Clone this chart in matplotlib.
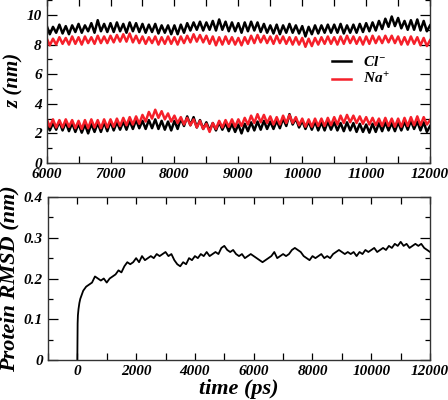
import numpy as np
import matplotlib
matplotlib.use('Agg')
import matplotlib.pyplot as plt
from matplotlib.ticker import MultipleLocator, FuncFormatter

plt.rcParams['font.family'] = 'Liberation Serif'
plt.rcParams['font.weight'] = 'bold'
plt.rcParams['font.style'] = 'italic'
plt.rcParams['axes.labelweight'] = 'bold'
plt.rcParams['mathtext.fontset'] = 'custom'
plt.rcParams['mathtext.it'] = 'Liberation Serif:bold:italic'
plt.rcParams['mathtext.rm'] = 'Liberation Serif:bold'

# ion z positions, every 50 ps from 6000 to 12000
t_ion = np.arange(6000, 12001, 50)

cl_up = [9.3, 8.7, 9.2, 8.8, 9.35, 8.75, 9.25, 8.7, 9.3, 8.85,
         9.4, 8.8, 9.3, 8.9, 9.45, 8.8, 9.65, 8.9, 9.4, 8.85,
         9.45, 8.85, 9.5, 8.9, 9.4, 8.8, 9.5, 8.9, 9.45, 8.85,
         9.4, 8.8, 9.35, 8.85, 9.4, 8.75, 9.3, 8.8, 9.3, 8.7,
         9.3, 8.7, 9.35, 8.8, 9.45, 8.95, 9.5, 9.0, 9.55, 8.95,
         9.5, 9.0, 9.6, 8.95, 9.7, 9.0, 9.55, 8.9, 9.5, 8.9,
         9.45, 8.8, 9.5, 8.9, 9.55, 8.95, 9.5, 8.85, 9.4, 8.8,
         9.3, 8.75, 9.35, 8.7, 9.3, 8.8, 9.4, 8.8, 9.3, 8.75,
         9.25, 8.55, 9.2, 8.7, 9.3, 8.75, 9.3, 8.8, 9.35, 8.8,
         9.35, 8.8, 9.4, 8.75, 9.3, 8.8, 9.35, 8.8, 9.4, 8.85,
         9.45, 8.9, 9.5, 8.95, 9.6, 9.05, 9.75, 9.2, 9.9, 9.25,
         9.8, 9.1, 9.6, 9.0, 9.65, 9.0, 9.7, 8.95, 9.6, 8.9,
         9.3]

na_up = [8.45, 7.95, 8.4, 8.0, 8.5, 8.05, 8.45, 8.0, 8.55, 8.05,
         8.5, 8.0, 8.55, 8.1, 8.5, 8.05, 8.6, 8.1, 8.55, 8.1,
         8.6, 8.15, 8.65, 8.2, 8.7, 8.2, 8.75, 8.15, 8.6, 8.1,
         8.55, 8.05, 8.5, 8.1, 8.55, 8.0, 8.5, 8.05, 8.55, 8.05,
         8.5, 8.0, 8.55, 8.1, 8.6, 8.15, 8.7, 8.2, 8.65, 8.15,
         8.6, 8.05, 8.55, 7.95, 8.5, 8.0, 8.55, 8.05, 8.5, 8.0,
         8.45, 7.95, 8.5, 8.05, 8.6, 8.1, 8.65, 8.15, 8.6, 8.1,
         8.55, 8.05, 8.6, 8.1, 8.55, 8.05, 8.5, 8.0, 8.5, 8.0,
         8.45, 7.85, 8.4, 7.9, 8.45, 8.0, 8.5, 8.05, 8.55, 8.05,
         8.5, 8.0, 8.55, 8.05, 8.6, 8.1, 8.55, 8.05, 8.5, 8.0,
         8.55, 8.05, 8.6, 8.1, 8.55, 8.1, 8.6, 8.15, 8.6, 8.1,
         8.55, 8.0, 8.5, 8.0, 8.55, 8.05, 8.5, 7.95, 8.45, 7.9,
         8.3]

cl_low = [2.75, 2.2, 2.7, 2.25, 2.8, 2.2, 2.75, 2.15, 2.7, 2.1,
          2.65, 2.05, 2.6, 2.0, 2.65, 2.1, 2.7, 2.1, 2.75, 2.15,
          2.8, 2.2, 2.75, 2.25, 2.8, 2.25, 2.85, 2.3, 2.9, 2.35,
          2.85, 2.3, 2.9, 2.35, 2.95, 2.3, 2.85, 2.25, 2.8, 2.2,
          2.85, 2.3, 3.0, 2.5, 3.15, 2.55, 3.1, 2.4, 2.9, 2.3,
          2.75, 2.2, 2.7, 2.2, 2.75, 2.25, 2.7, 2.15, 2.65, 2.1,
          2.6, 2.0, 2.65, 2.15, 2.75, 2.2, 2.8, 2.25, 2.85, 2.3,
          2.8, 2.3, 2.85, 2.35, 3.0, 2.5, 3.3, 2.6, 3.0, 2.4,
          2.85, 2.3, 2.8, 2.25, 2.8, 2.2, 2.75, 2.2, 2.8, 2.25,
          2.75, 2.2, 2.7, 2.15, 2.75, 2.2, 2.7, 2.1, 2.65, 2.1,
          2.6, 2.05, 2.65, 2.1, 2.7, 2.15, 2.75, 2.2, 2.7, 2.15,
          2.75, 2.2, 2.8, 2.25, 2.85, 2.3, 2.8, 2.2, 2.75, 2.1,
          2.5]

na_low = [3.0, 2.45, 2.95, 2.4, 2.9, 2.4, 2.95, 2.45, 2.9, 2.35,
          2.85, 2.3, 2.9, 2.35, 2.95, 2.4, 2.9, 2.35, 2.95, 2.4,
          2.95, 2.45, 3.0, 2.5, 3.05, 2.55, 3.1, 2.6, 3.15, 2.65,
          3.25, 2.8, 3.45, 3.0, 3.6, 3.05, 3.5, 2.95, 3.35, 2.8,
          3.2, 2.7, 3.1, 2.6, 3.05, 2.55, 2.95, 2.4, 2.85, 2.3,
          2.65, 2.1, 2.7, 2.3, 2.85, 2.4, 2.9, 2.45, 2.95, 2.45,
          2.95, 2.5, 3.05, 2.6, 3.2, 2.7, 3.3, 2.75, 3.25, 2.7,
          3.15, 2.6, 3.1, 2.6, 3.2, 2.7, 3.25, 2.7, 3.1, 2.55,
          3.0, 2.45, 2.95, 2.45, 3.0, 2.5, 3.0, 2.5, 3.05, 2.55,
          3.1, 2.6, 3.2, 2.7, 3.25, 2.75, 3.2, 2.7, 3.15, 2.65,
          3.1, 2.6, 3.05, 2.55, 3.0, 2.5, 3.05, 2.5, 3.0, 2.45,
          3.0, 2.45, 3.05, 2.5, 3.1, 2.55, 3.15, 2.55, 3.1, 2.6,
          2.9]

# protein RMSD
t_rmsd = [0, 10, 20, 40, 70, 100, 150, 200] + list(range(300, 12001, 100))
rmsd = [0.0, 0.09, 0.11, 0.125, 0.14, 0.15, 0.16, 0.17,
        0.18, 0.185, 0.19, 0.205, 0.2, 0.195, 0.2,
        0.19, 0.2, 0.205, 0.21, 0.22, 0.215, 0.23, 0.24, 0.235, 0.24,
        0.25, 0.24, 0.255, 0.245, 0.25, 0.255, 0.25, 0.26, 0.255, 0.26,
        0.265, 0.255, 0.26, 0.245, 0.235, 0.23, 0.24, 0.235, 0.25, 0.245,
        0.255, 0.25, 0.26, 0.255, 0.265, 0.255, 0.26, 0.265, 0.26, 0.275,
        0.28, 0.27, 0.265, 0.27, 0.26, 0.255, 0.26, 0.25, 0.255, 0.26,
        0.255, 0.25, 0.245, 0.24, 0.245, 0.25, 0.255, 0.265, 0.25, 0.255,
        0.26, 0.255, 0.26, 0.27, 0.275, 0.27, 0.265, 0.255, 0.25, 0.245,
        0.255, 0.25, 0.255, 0.26, 0.25, 0.255, 0.25, 0.26, 0.265, 0.27,
        0.265, 0.26, 0.265, 0.26, 0.265, 0.255, 0.265, 0.26, 0.27, 0.265,
        0.27, 0.275, 0.265, 0.27, 0.275, 0.27, 0.28, 0.275, 0.285, 0.28,
        0.29, 0.28, 0.285, 0.275, 0.28, 0.285, 0.28, 0.285, 0.275, 0.27,
        0.265]

red = '#f5202a'

fig = plt.figure(figsize=(4.48, 4.0), dpi=100)

# top panel
ax1 = fig.add_axes([0.104, 0.5925, 0.856, 0.4107])
ax1.plot(t_ion, cl_up, color='black', lw=1.8)
ax1.plot(t_ion, cl_low, color='black', lw=1.8)
ax1.plot(t_ion, na_up, color=red, lw=1.8)
ax1.plot(t_ion, na_low, color=red, lw=1.8)
ax1.plot([], [], color='black', lw=1.8, label='$Cl^{-}$')
ax1.plot([], [], color=red, lw=1.8, label='$Na^{+}$')
ax1.set_xlim(6000, 12000)
ax1.set_ylim(0, 11.1)
ax1.xaxis.set_major_locator(MultipleLocator(1000))
ax1.xaxis.set_minor_locator(MultipleLocator(500))
ax1.yaxis.set_major_locator(MultipleLocator(2))
ax1.yaxis.set_minor_locator(MultipleLocator(1))
ax1.set_ylabel('z (nm)', fontsize=15, labelpad=2)
ax1.legend(loc='center', bbox_to_anchor=(0.82, 0.56), frameon=False,
           fontsize=11, handlelength=1.2, handletextpad=0.8, labelspacing=0.2)

# bottom panel
ax2 = fig.add_axes([0.107, 0.1, 0.853, 0.4075])
ax2.plot(t_rmsd, rmsd, color='black', lw=1.3)
ax2.set_xlim(-1000, 12000)
ax2.set_ylim(0, 0.4)
ax2.xaxis.set_major_locator(MultipleLocator(2000))
ax2.xaxis.set_minor_locator(MultipleLocator(1000))
ax2.yaxis.set_major_locator(MultipleLocator(0.1))
ax2.yaxis.set_minor_locator(MultipleLocator(0.05))
ax2.yaxis.set_major_formatter(FuncFormatter(lambda v, p: '0' if abs(v) < 1e-9 else f'{v:.1f}'))
ax2.set_xlabel('time (ps)', fontsize=16, labelpad=1)
ax2.set_ylabel('Protein RMSD (nm)', fontsize=16, labelpad=3)

for ax in (ax1, ax2):
    ax.tick_params(which='both', direction='in', top=True, right=True, labelsize=11, width=0.9)
    ax.tick_params(axis='y', which='major', length=7)
    ax.tick_params(axis='y', which='minor', length=3.5)
    ax.tick_params(axis='x', which='both', length=5)
    for sp in ax.spines.values():
        sp.set_color('#333333')
        sp.set_linewidth(1.0)

fig.savefig('out.png', dpi=100)
